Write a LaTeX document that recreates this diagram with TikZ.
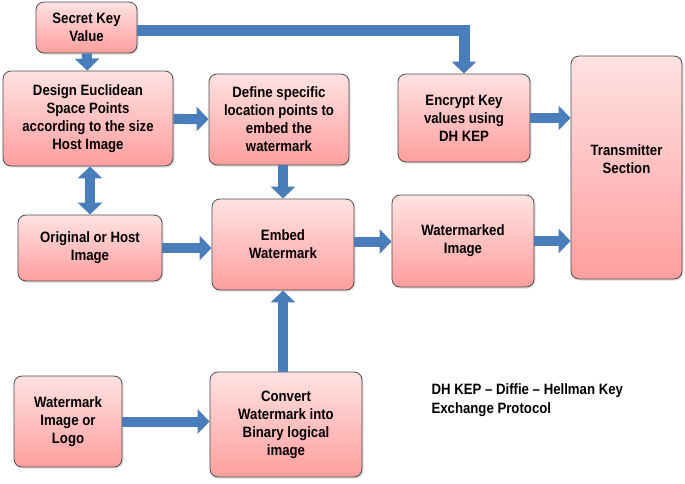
\documentclass[tikz,border=0pt]{standalone}
\usepackage{fontspec}
\setmainfont{Liberation Sans}[FakeStretch=0.88]
\usepackage{tikz}
\usetikzlibrary{arrows.meta,positioning,shadows,calc}
\definecolor{boxtop}{HTML}{FFE2E2}
\definecolor{boxbot}{HTML}{FF9E9E}
\definecolor{boxrule}{HTML}{4A4A4A}
\definecolor{arrowblue}{HTML}{4A7EBB}

\begin{document}
\begin{tikzpicture}[x=1pt,y=-1pt,
  blk/.style={draw=boxrule,thick,top color=boxtop,bottom color=boxbot,rounded corners=8pt,
              align=center,inner sep=2pt,
              font=\fontsize{15}{18}\selectfont\bfseries,
              drop shadow={opacity=0.25,shadow xshift=1.5pt,shadow yshift=-1.5pt}},
  note/.style={font=\fontsize{15}{19}\selectfont\bfseries,align=left,anchor=north west},
  arr/.style={-{Triangle[length=12pt,width=24pt]},line width=10pt,draw=arrowblue},
  darr/.style={{Triangle[length=12pt,width=24pt]}-{Triangle[length=12pt,width=24pt]},
               line width=10pt,draw=arrowblue}
]
\useasboundingbox (0,0) rectangle (685,483);
% blocks
\node[blk,minimum width=101pt,minimum height=51pt] (secret) at (86.5,27.5) {Secret Key\\Value};
\node[blk,minimum width=170pt,minimum height=95pt] (design) at (88,118.5)
     {Design Euclidean\\Space Points\\according to the size\\Host Image};
\node[blk,minimum width=140pt,minimum height=91pt] (define) at (279,119.5)
     {Define specific\\location points to\\embed the\\watermark};
\node[blk,minimum width=132pt,minimum height=88pt] (encrypt) at (464,118)
     {Encrypt Key\\values using\\DH KEP};
\node[blk,minimum width=111pt,minimum height=223pt] (trans) at (626.5,167.5)
     {Transmitter\\Section\\[-2pt]};
\node[blk,minimum width=144pt,minimum height=66pt] (host) at (90,248) {Original or Host\\Image};
\node[blk,minimum width=142pt,minimum height=91pt] (embed) at (283,244.5) {Embed\\Watermark};
\node[blk,minimum width=142pt,minimum height=92pt] (wmimg) at (463,241) {Watermarked\\Image};
\node[blk,minimum width=108pt,minimum height=91pt] (logo) at (68,421.5) {Watermark\\Image or\\Logo};
\node[blk,minimum width=152pt,minimum height=105pt] (convert) at (286,424.5)
     {Convert\\Watermark into\\Binary logical\\image};
\node[note] (legend) at (428,380) {DH KEP -- Diffie -- Hellman Key\\Exchange Protocol};
% connectors
\draw[arr] (secret) -- (design);
\draw[arr,line width=11pt] ([yshift=-3pt]secret.east) -| (encrypt.north);
\draw[darr] (design.south -| host.north) -- (host.north);
\draw[arr] (design) -- (define);
\draw[arr] (define.south -| embed.north) -- (embed.north);
\draw[arr] (host) -- (embed.west |- host);
\draw[arr] ([yshift=3pt]embed.east) -- ([yshift=3pt]embed.east -| wmimg.west);
\draw[arr] (encrypt) -- (encrypt -| trans.west);
\draw[arr] (wmimg) -- (wmimg -| trans.west);
\draw[arr] (convert.north -| embed.south) -- (embed.south);
\draw[arr] (logo.east) -- (logo.east -| convert.west);
\end{tikzpicture}
\end{document}
